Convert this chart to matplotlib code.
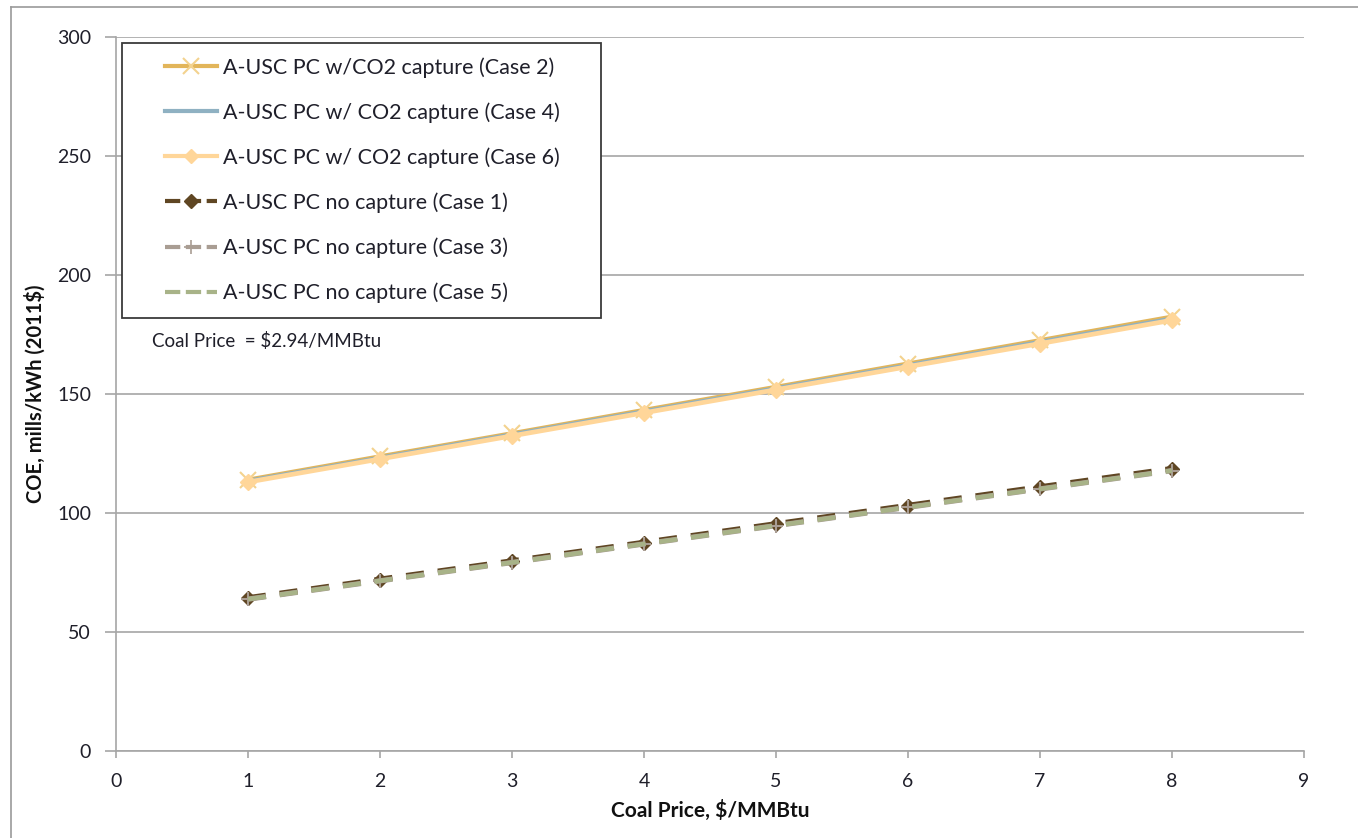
import matplotlib
matplotlib.use("Agg")
import matplotlib.pyplot as plt
from matplotlib.lines import Line2D
from matplotlib.patches import Rectangle

plt.rcParams['font.family'] = ['Lato', 'DejaVu Sans']
plt.rcParams['lines.scale_dashes'] = False

# Coal price, $/MMBtu
coal_price = [1, 2, 3, 4, 5, 6, 7, 8]

# Cost of electricity, mills/kWh (2011$)
case2_capture = [114.0, 123.8, 133.5, 143.3, 153.0, 162.8, 172.6, 182.5]
case4_capture = [113.5, 123.2, 133.0, 142.7, 152.4, 162.1, 171.9, 181.7]
case6_capture = [113.0, 122.7, 132.4, 142.1, 151.8, 161.5, 171.2, 181.0]
case1_nocap = [64.2, 72.0, 79.7, 87.5, 95.3, 103.0, 110.8, 118.5]
case3_nocap = [63.8, 71.5, 79.2, 87.0, 94.7, 102.4, 110.1, 117.8]
case5_nocap = [63.8, 71.5, 79.2, 87.0, 94.7, 102.4, 110.1, 117.8]

labels = [
    "A-USC PC w/CO2 capture (Case 2)",
    "A-USC PC w/ CO2 capture (Case 4)",
    "A-USC PC w/ CO2 capture (Case 6)",
    "A-USC PC no capture (Case 1)",
    "A-USC PC no capture (Case 3)",
    "A-USC PC no capture (Case 5)",
]
x_ticks = [0, 1, 2, 3, 4, 5, 6, 7, 8, 9]
y_ticks = [0, 50, 100, 150, 200, 250, 300]
note_text = "Coal Price  = $2.94/MMBtu"

W, H = 1358, 838
fig = plt.figure(figsize=(W / 100, H / 100), dpi=100)
fig.patch.set_facecolor('white')

# outer chart frame (left and top edges)
fig.add_artist(Line2D([11 / W, 11 / W], [0, 1 - 7 / H], transform=fig.transFigure,
                      color='#9a9a9a', lw=1.2))
fig.add_artist(Line2D([11 / W, 1], [1 - 7 / H, 1 - 7 / H], transform=fig.transFigure,
                      color='#9a9a9a', lw=1.2))

L, R, B, T = 116, 1304, 751, 37
ax = fig.add_axes([L / W, 1 - B / H, (R - L) / W, (B - T) / H])

grid_c = '#a6a6a6'
ax.set_xlim(0, 9)
ax.set_ylim(0, 300)
ax.set_xticks(x_ticks)
ax.set_yticks(y_ticks)
ax.yaxis.grid(True, color=grid_c, lw=1.2)
ax.set_axisbelow(True)
for s in ['top', 'right']:
    ax.spines[s].set_visible(False)
for s in ['left', 'bottom']:
    ax.spines[s].set_color(grid_c)
    ax.spines[s].set_linewidth(1.2)
ax.tick_params(axis='y', direction='out', length=8, width=1.2, color=grid_c,
               pad=10, labelsize=14, labelcolor='#1f1f2a')
ax.tick_params(axis='x', direction='out', length=5, width=1.2, color=grid_c,
               pad=11, labelsize=14, labelcolor='#1f1f2a')

c2, c2m = '#e2b55a', '#f3d28e'
c4 = '#8fb1c2'
c6 = '#ffd699'
c1 = '#5f4623'
c3 = '#a99d93'
c5 = '#a8b388'
dash = (13, 10)

ax.plot(coal_price, case1_nocap, color=c1, lw=4.4, dashes=dash, marker='D',
        ms=7, mfc=c1, mec=c1, zorder=3)
ax.plot(coal_price, case3_nocap, color=c3, lw=3.8, dashes=dash, marker='+',
        ms=10, mew=1.5, mec=c3, zorder=3.1)
ax.plot(coal_price, case5_nocap, color=c5, lw=3.2, dashes=dash, zorder=3.2)

ax.plot(coal_price, case2_capture, color=c2, lw=3.0, marker='x', ms=11,
        mew=1.5, mec=c2m, zorder=4)
ax.plot(coal_price, case4_capture, color=c4, lw=3.0, zorder=4.1)
ax.plot(coal_price, case6_capture, color=c6, lw=3.4, marker='D', ms=8,
        mfc=c6, mec=c6, zorder=4.2)

handles = [
    Line2D([], [], color=c2, lw=3.0, marker='x', ms=11, mew=1.5, mec=c2m),
    Line2D([], [], color=c4, lw=3.0),
    Line2D([], [], color=c6, lw=3.0, marker='D', ms=7, mfc=c6, mec=c6),
    Line2D([], [], color=c1, lw=3.0, dashes=(11, 4), marker='D', ms=7, mfc=c1, mec=c1),
    Line2D([], [], color=c3, lw=3.0, dashes=(11, 4), marker='+', ms=10, mew=1.2, mec=c3),
    Line2D([], [], color=c5, lw=3.0, dashes=(11, 4)),
]

def fx(px):
    return (px - L) / (R - L)

def fy(py):
    return (B - py) / (B - T)

ax.add_patch(Rectangle((fx(122), fy(318)), fx(601) - fx(122), fy(43) - fy(318),
                       transform=ax.transAxes, fill=True, facecolor='white',
                       edgecolor='#3a3a3a', lw=1.3, zorder=5))
leg = ax.legend(handles, labels, loc='upper left',
                bbox_to_anchor=(fx(165), fy(57)), frameon=False, borderpad=0,
                borderaxespad=0, handlelength=2.4, handletextpad=0.3,
                labelspacing=1.14, fontsize=15.5)
leg.set_zorder(6)
for t in leg.get_texts():
    t.set_color('#1f1f2a')

ax.text(fx(152), fy(341), note_text, transform=ax.transAxes, fontsize=13.5,
        color='#1f1f2a', ha='left', va='center', zorder=6)

ax.set_xlabel("Coal Price, $/MMBtu", fontsize=15, fontweight='bold',
              color='#111111', labelpad=7)
ax.set_ylabel("COE, mills/kWh (2011$)", fontsize=14.5, fontweight='bold',
              color='#111111', labelpad=8)

fig.savefig("out.png", dpi=100, facecolor='white')
